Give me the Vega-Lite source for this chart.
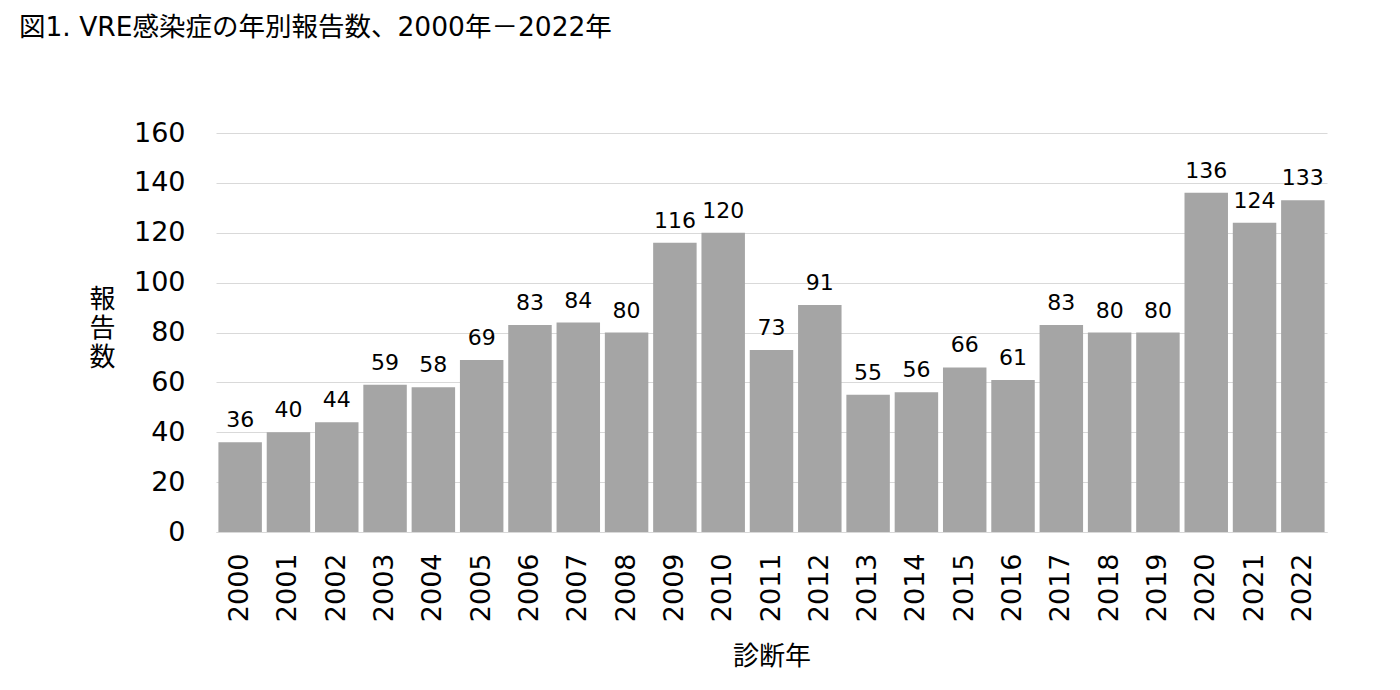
{
  "$schema": "https://vega.github.io/schema/vega-lite/v6.json",
  "autosize": "none",
  "width": 1111,
  "height": 399,
  "padding": {"left": 216, "top": 133, "right": 73, "bottom": 158},
  "background": "white",
  "config": {
    "font": "DejaVu Sans, Noto Sans CJK JP",
    "view": {"stroke": null}
  },
  "title": {
    "text": "図1. VRE感染症の年別報告数、2000年－2022年",
    "anchor": "start",
    "frame": "group",
    "font": "DejaVu Sans, Noto Sans CJK JP",
    "fontSize": 26.5,
    "fontWeight": "normal",
    "color": "#000000",
    "dx": -197,
    "dy": -74
  },
  "data": {
    "values": [
      {"year": "2000", "count": 36},
      {"year": "2001", "count": 40},
      {"year": "2002", "count": 44},
      {"year": "2003", "count": 59},
      {"year": "2004", "count": 58},
      {"year": "2005", "count": 69},
      {"year": "2006", "count": 83},
      {"year": "2007", "count": 84},
      {"year": "2008", "count": 80},
      {"year": "2009", "count": 116},
      {"year": "2010", "count": 120},
      {"year": "2011", "count": 73},
      {"year": "2012", "count": 91},
      {"year": "2013", "count": 55},
      {"year": "2014", "count": 56},
      {"year": "2015", "count": 66},
      {"year": "2016", "count": 61},
      {"year": "2017", "count": 83},
      {"year": "2018", "count": 80},
      {"year": "2019", "count": 80},
      {"year": "2020", "count": 136},
      {"year": "2021", "count": 124},
      {"year": "2022", "count": 133}
    ]
  },
  "encoding": {
    "x": {
      "field": "year",
      "type": "ordinal",
      "scale": {"paddingInner": 0.1, "paddingOuter": 0.05},
      "axis": {
        "title": "診断年",
        "titleFontSize": 26,
        "titleFontWeight": "normal",
        "titleColor": "#000000",
        "titlePadding": 22,
        "labelAngle": -90,
        "labelFontSize": 27,
        "labelColor": "#000000",
        "labelPadding": 21,
        "ticks": false,
        "domainColor": "#d9d9d9",
        "domainWidth": 1
      }
    },
    "y": {
      "field": "count",
      "type": "quantitative",
      "scale": {"domain": [0, 160]},
      "axis": {
        "values": [0, 20, 40, 60, 80, 100, 120, 140, 160],
        "title": ["報", "告", "数"],
        "titleAngle": 0,
        "titleFontSize": 26,
        "titleFontWeight": "normal",
        "titleColor": "#000000",
        "titleLineHeight": 29,
        "titleX": -114,
        "titleY": 153,
        "titleAlign": "center",
        "titleBaseline": "top",
        "labelFontSize": 27,
        "labelColor": "#000000",
        "labelPadding": 31,
        "ticks": false,
        "domain": false,
        "gridColor": "#d9d9d9",
        "gridWidth": 1
      }
    }
  },
  "layer": [
    {"mark": {"type": "bar", "color": "#a5a5a5"}},
    {
      "mark": {"type": "text", "baseline": "alphabetic", "dy": -15, "fontSize": 22, "color": "#000000"},
      "encoding": {"text": {"field": "count", "type": "quantitative"}}
    }
  ]
}
